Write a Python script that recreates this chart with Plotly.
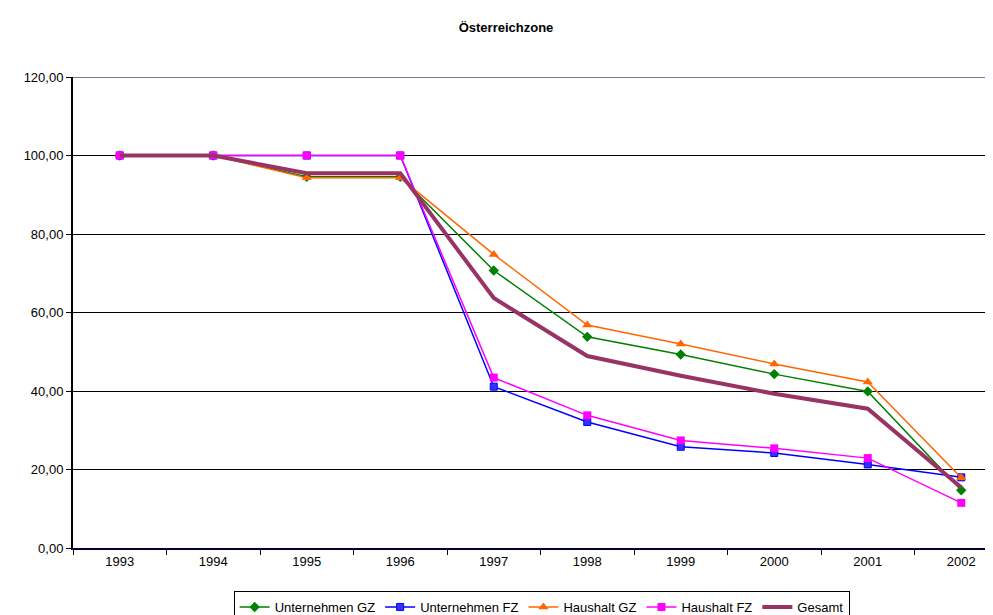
import plotly.graph_objects as go

years = ["1993", "1994", "1995", "1996", "1997", "1998", "1999", "2000", "2001", "2002"]
unternehmen_gz = [100.0, 100.0, 94.6, 94.6, 70.7, 53.8, 49.3, 44.3, 39.9, 14.7]
unternehmen_fz = [100.0, 100.0, 100.0, 100.0, 41.1, 32.1, 25.8, 24.2, 21.3, 18.0]
haushalt_gz = [100.0, 100.0, 94.3, 94.3, 74.8, 56.8, 52.0, 46.9, 42.3, 17.9]
haushalt_fz = [100.0, 100.0, 100.0, 100.0, 43.4, 33.8, 27.4, 25.4, 22.9, 11.5]
gesamt = [100.0, 100.0, 95.5, 95.5, 63.7, 48.9, 43.9, 39.3, 35.5, 15.4]
y_ticks = [0, 20, 40, 60, 80, 100, 120]

fig = go.Figure()
fig.add_trace(go.Scatter(x=years, y=unternehmen_gz, name="Unternehmen GZ", mode="lines+markers",
                         line=dict(color="#008000", width=1.5),
                         marker=dict(symbol="diamond", size=8, color="#008000")))
fig.add_trace(go.Scatter(x=years, y=unternehmen_fz, name="Unternehmen FZ", mode="lines+markers",
                         line=dict(color="#0000FF", width=1.5),
                         marker=dict(symbol="square", size=7, color="#3333FF", line=dict(color="#0000FF", width=1))))
fig.add_trace(go.Scatter(x=years, y=haushalt_gz, name="Haushalt GZ", mode="lines+markers",
                         line=dict(color="#FF6600", width=1.5),
                         marker=dict(symbol="triangle-up", size=9, color="#FF6600")))
fig.add_trace(go.Scatter(x=years, y=haushalt_fz, name="Haushalt FZ", mode="lines+markers",
                         line=dict(color="#FF00FF", width=1.5),
                         marker=dict(symbol="square", size=8, color="#FF00FF")))
fig.add_trace(go.Scatter(x=years, y=gesamt, name="Gesamt", mode="lines",
                         line=dict(color="#993366", width=4)))

fig.update_layout(
    width=993, height=615,
    margin=dict(l=65, r=0, t=69, b=64),
    paper_bgcolor="white", plot_bgcolor="white",
    separators=",.",
    font=dict(family="Liberation Sans, Arial, sans-serif", size=13, color="black"),
    title=dict(text="<b>Österreichzone</b>", x=498/993, xanchor="center", y=1 - 19/615, yanchor="middle",
               font=dict(size=13, color="black")),
    xaxis=dict(type="category", range=[-0.5, 9.425], tickson="boundaries", ticks="outside",
               ticklen=5, tickcolor="black", showgrid=False, showline=True, linecolor="#000033",
               linewidth=2, zeroline=False, tickfont=dict(size=13)),
    yaxis=dict(range=[0, 120], tickvals=y_ticks, tickformat=".2f", ticks="outside", ticklen=5,
               tickcolor="black", showgrid=True, gridcolor="black", gridwidth=1, showline=True,
               linecolor="black", linewidth=2, zeroline=False, tickfont=dict(size=13)),
    legend=dict(orientation="h", x=0.505, xanchor="center", y=-0.0913, yanchor="top",
                bordercolor="black", borderwidth=1, bgcolor="white", font=dict(size=13),
                itemwidth=30, tracegroupgap=0),
    showlegend=True,
)
fig.add_shape(type="line", xref="paper", yref="y", x0=0, x1=1, y0=120, y1=120,
              line=dict(color="#7878A8", width=2))

fig.write_html("out.html")
